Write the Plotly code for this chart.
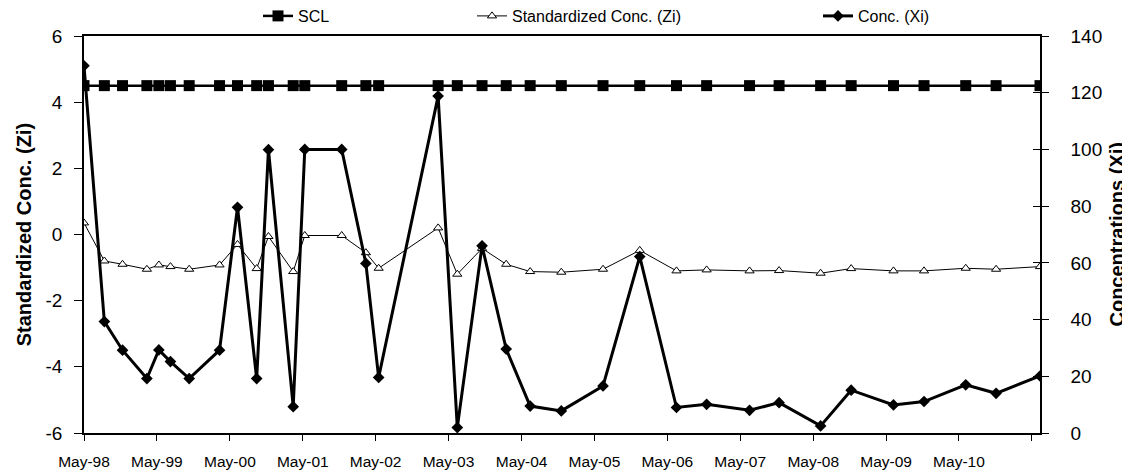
import plotly.graph_objects as go

# ---- data ----
dates = ["1998-05-15", "1998-08-25", "1998-11-24", "1999-03-26", "1999-05-25",
         "1999-07-22", "1999-10-24", "2000-03-24", "2000-06-22", "2000-09-26",
         "2000-11-24", "2001-03-28", "2001-05-25", "2001-11-26", "2002-03-27",
         "2002-05-30", "2003-03-24", "2003-06-28", "2003-10-30", "2004-02-28",
         "2004-06-27", "2004-11-30", "2005-06-27", "2005-12-28", "2006-06-30",
         "2006-11-28", "2007-07-01", "2007-11-26", "2008-06-21", "2008-11-21",
         "2009-06-21", "2009-11-21", "2010-06-18", "2010-11-17", "2011-06-25"]

scl = [4.5, 4.5, 4.5, 4.5, 4.5, 4.5, 4.5, 4.5, 4.5, 4.5,
       4.5, 4.5, 4.5, 4.5, 4.5, 4.5, 4.5, 4.5, 4.5, 4.5,
       4.5, 4.5, 4.5, 4.5, 4.5, 4.5, 4.5, 4.5, 4.5, 4.5,
       4.5, 4.5, 4.5, 4.5, 4.5]

zi = [0.35, -0.8, -0.9, -1.05, -0.92, -0.97, -1.05, -0.92, -0.3, -1.03,
      -0.06, -1.12, -0.03, -0.03, -0.55, -1.02, 0.2, -1.2, -0.42, -0.9,
      -1.12, -1.14, -1.05, -0.48, -1.1, -1.07, -1.1, -1.09, -1.17, -1.03,
      -1.1, -1.1, -1.02, -1.05, -0.97]

xi = [129.5, 39.3, 29.2, 19.2, 29.3, 25.2, 19.2, 29.2, 79.6, 19.2,
      99.9, 9.3, 100, 100, 59.8, 19.6, 118.8, 1.9, 66, 29.6,
      9.5, 7.8, 16.6, 62.2, 9.0, 10.1, 8.0, 10.7, 2.5, 15.1,
      9.9, 11.1, 17.0, 14.0, 20.1]

tick_dates = ["1998-05-15", "1999-05-15", "2000-05-15", "2001-05-15", "2002-05-15",
              "2003-05-15", "2004-05-15", "2005-05-15", "2006-05-15", "2007-05-15",
              "2008-05-15", "2009-05-15", "2010-05-15", "2011-05-15"]
tick_labels = ["May-98", "May-99", "May-00", "May-01", "May-02", "May-03", "May-04",
               "May-05", "May-06", "May-07", "May-08", "May-09", "May-10", ""]

zi_ticks = [-6, -4, -2, 0, 2, 4, 6]
zi_tick_labels = ["-6", "-4", "-2", "0", "2", "4", "6"]

FONT = "Liberation Sans, Arial, sans-serif"

fig = go.Figure()

fig.add_trace(go.Scatter(
    x=dates, y=scl, name="SCL", mode="lines+markers", yaxis="y",
    line=dict(color="black", width=2.5),
    marker=dict(symbol="square", size=11, color="black"),
    legend="legend"))

fig.add_trace(go.Scatter(
    x=dates, y=zi, name="Standardized Conc. (Zi)", mode="lines+markers", yaxis="y",
    line=dict(color="black", width=1),
    marker=dict(symbol="triangle-up", size=8, color="white",
                line=dict(color="black", width=1)),
    legend="legend2"))

fig.add_trace(go.Scatter(
    x=dates, y=xi, name="Conc. (Xi)", mode="lines+markers", yaxis="y2",
    line=dict(color="black", width=3),
    marker=dict(symbol="diamond", size=9, color="black"),
    legend="legend3"))

# empty helper trace so the inner tick marks of the right axis are drawn
fig.add_trace(go.Scatter(x=[], y=[], yaxis="y3", showlegend=False, hoverinfo="skip"))

# the page body has an 8px margin, so the figure is 8px smaller on each side
W, H = 1122, 465

leg_common = dict(orientation="h", xref="container", yref="container",
                  yanchor="middle", y=1 - 8 / H, xanchor="left",
                  font=dict(family=FONT, size=16, color="black"),
                  bgcolor="rgba(0,0,0,0)", borderwidth=0)

fig.update_layout(
    width=W, height=H,
    margin=dict(l=76, r=90, t=28, b=40, autoexpand=False),
    paper_bgcolor="white", plot_bgcolor="white",
    font=dict(family=FONT, color="black"),
    showlegend=True,
    legend=dict(x=250 / W, **leg_common),
    legend2=dict(x=464 / W, **leg_common),
    legend3=dict(x=810 / W, **leg_common),
    xaxis=dict(
        type="date", range=[dates[0], dates[-1]],
        tickmode="array", tickvals=tick_dates, ticktext=tick_labels,
        ticks="outside", ticklen=6, tickwidth=1, tickcolor="black",
        showline=True, linecolor="black", linewidth=1.5, mirror=True,
        showgrid=False, zeroline=False, automargin=False,
        tickfont=dict(family=FONT, size=15.5, color="black"),
        ticklabelstandoff=8),
    yaxis=dict(
        range=[-6, 6], tickmode="array", tickvals=zi_ticks, ticktext=zi_tick_labels,
        ticks="outside", ticklen=8, tickwidth=1, tickcolor="black",
        showline=True, linecolor="black", linewidth=1.5,
        showgrid=False, zeroline=False, automargin=False,
        tickfont=dict(family=FONT, size=19, color="black"),
        ticklabelstandoff=8),
    yaxis2=dict(
        range=[0, 140], dtick=20, tick0=0, overlaying="y", side="right",
        ticks="outside", ticklen=7, tickwidth=1, tickcolor="black",
        showline=True, linecolor="black", linewidth=1.5,
        showgrid=False, zeroline=False, automargin=False,
        tickfont=dict(family=FONT, size=19, color="black"),
        ticklabelstandoff=18),
    yaxis3=dict(
        range=[0, 140], dtick=20, tick0=0, overlaying="y", side="right",
        ticks="inside", ticklen=7, tickwidth=1, tickcolor="black",
        showticklabels=False, showline=False, automargin=False,
        showgrid=False, zeroline=False),
    annotations=[
        dict(text="<b>Standardized Conc. (Zi)</b>", xref="paper", yref="paper",
             x=-0.063, y=0.5, textangle=-90, showarrow=False,
             xanchor="center", yanchor="middle",
             font=dict(family=FONT, size=20, color="black")),
        dict(text="<b>Concentrations (Xi)</b>", xref="paper", yref="paper",
             x=1.0795, y=0.5, textangle=-90, showarrow=False,
             xanchor="center", yanchor="middle",
             font=dict(family=FONT, size=20, color="black")),
    ],
)

fig.write_html("out.html")
